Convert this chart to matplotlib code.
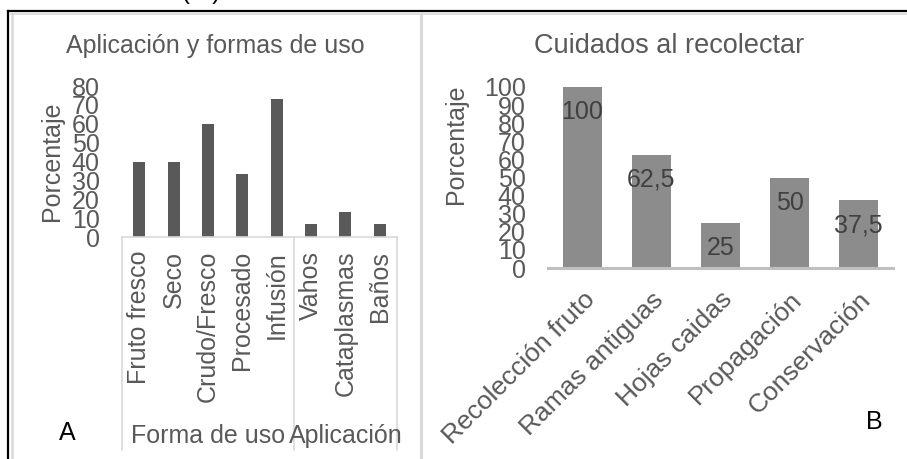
import matplotlib.pyplot as plt
import matplotlib.transforms as mtransforms
from matplotlib.lines import Line2D

plt.rcParams['font.family'] = ['Liberation Sans', 'DejaVu Sans']

# panel A: formas de uso y aplicacion
usos = ["Fruto fresco", "Seco", "Crudo/Fresco", "Procesado", "Infusión",
        "Vahos", "Cataplasmas", "Baños"]
usos_pct = [40, 40, 60, 33.3, 73.3, 6.7, 13.3, 6.7]
grupos = ["Forma de uso", "Aplicación"]
grupos_n = [5, 3]

# panel B: cuidados al recolectar
cuidados = ["Recolección fruto", "Ramas antiguas", "Hojas caidas",
            "Propagación", "Conservación"]
cuidados_pct = [100, 62.5, 25, 50, 37.5]

W, H = 907, 459
fig = plt.figure(figsize=(W / 100, H / 100), dpi=100)

gris_txt = "#595959"
fs = 18


def fx(px):
    return px / W


def fy(py):
    return 1 - py / H


# marcos de la figura
fig.add_artist(Line2D([fx(8), 1], [fy(11), fy(11)], color="black", lw=1.6))
fig.add_artist(Line2D([fx(8), fx(8)], [fy(11), 0], color="black", lw=1.6))
fig.add_artist(Line2D([fx(11), 1], [fy(14), fy(14)], color="#d9d9d9", lw=1.2))
fig.add_artist(Line2D([fx(11.5), fx(11.5)], [fy(14), 0], color="#d9d9d9", lw=1.8))
fig.add_artist(Line2D([fx(421), fx(421)], [fy(14), 0], color="#d9d9d9", lw=2.2))

# texto cortado arriba
fig.text(fx(8), fy(-1.5), "a", fontsize=18, color="black", va="baseline")
fig.text(fx(58), fy(-1.5), "recolectar  (%)", fontsize=18, color="black", va="baseline")

# ---- panel A
ax1 = fig.add_axes([fx(122), fy(237), fx(397) - fx(122), fy(86) - fy(237)])
x1 = list(range(len(usos)))
ax1.bar(x1, usos_pct, width=0.35, color="#595959")
ax1.set_xlim(-0.5, len(usos) - 0.5)
ax1.set_ylim(0, 80)
ax1.set_yticks(range(0, 81, 10))
ax1.tick_params(axis="y", length=0, pad=16, labelsize=fs, labelcolor=gris_txt)
ax1.set_xticks(x1)
ax1.set_xticklabels(usos, rotation=90, ha="center", va="top")
ax1.tick_params(axis="x", length=0, pad=10, labelsize=fs, labelcolor=gris_txt)
for s in ["top", "right", "left"]:
    ax1.spines[s].set_visible(False)
ax1.spines["bottom"].set_color("#d9d9d9")
ax1.spines["bottom"].set_linewidth(1.2)
ax1.set_ylabel("Porcentaje", fontsize=fs, color=gris_txt)
ax1.yaxis.set_label_coords(-0.212, 0.5)
fig.text(fx(215), fy(46), "Aplicación y formas de uso", fontsize=fs,
         color=gris_txt, ha="center", va="center")

# caja de grupos debajo del eje
trans = mtransforms.blended_transform_factory(ax1.transData, ax1.transAxes)
bordes = [-0.5]
for n in grupos_n:
    bordes.append(bordes[-1] + n)
for b in bordes:
    ax1.plot([b, b], [0, -1.41], transform=trans, color="#d9d9d9", lw=1.2,
             clip_on=False)
for i, g in enumerate(grupos):
    ax1.text((bordes[i] + bordes[i + 1]) / 2, -1.318, g, transform=trans,
             ha="center", va="center", fontsize=fs, color=gris_txt)
fig.text(fx(67), fy(433), "A", fontsize=fs, color="black", ha="center", va="center")

# ---- panel B
ax2 = fig.add_axes([fx(548), fy(268), fx(893) - fx(548), fy(87) - fy(268)])
x2 = list(range(len(cuidados)))
ax2.bar(x2, cuidados_pct, width=0.56, color="#8c8c8c")
ax2.set_xlim(-0.5, len(cuidados) - 0.5)
ax2.set_ylim(0, 100)
ax2.set_yticks(range(0, 101, 10))
ax2.tick_params(axis="y", length=0, pad=16, labelsize=fs, labelcolor=gris_txt)
ax2.set_xticks(x2)
ax2.set_xticklabels(cuidados, rotation=45, ha="right", va="top",
                    rotation_mode="anchor")
ax2.tick_params(axis="x", length=0, pad=14, labelsize=19, labelcolor=gris_txt)
for s in ["top", "right", "left"]:
    ax2.spines[s].set_visible(False)
ax2.spines["bottom"].set_color("#bfbfbf")
ax2.spines["bottom"].set_linewidth(2.2)
ax2.set_ylabel("Porcentaje", fontsize=fs, color=gris_txt)
ax2.yaxis.set_label_coords(-0.232, 0.685)
fig.text(fx(669), fy(46), "Cuidados al recolectar", fontsize=19.5,
         color=gris_txt, ha="center", va="center")
for xi, v in zip(x2, cuidados_pct):
    ax2.annotate(f"{v:g}".replace(".", ","), (xi, v), xytext=(0, -18),
                 textcoords="offset points", ha="center", va="center",
                 fontsize=fs, color="#404040")
fig.text(fx(874), fy(422), "B", fontsize=fs, color="black", ha="center", va="center")

fig.savefig("out.png", dpi=100)
